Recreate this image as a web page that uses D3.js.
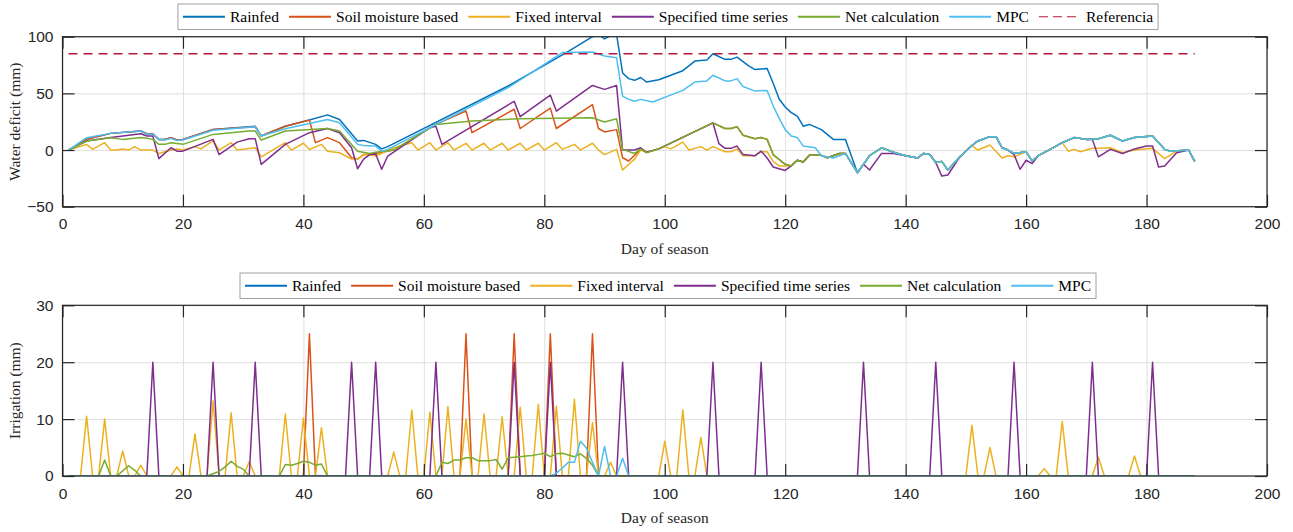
<!DOCTYPE html>
<html>
<head>
<meta charset="utf-8">
<script src="https://cdn.jsdelivr.net/npm/d3@7"></script>
<style>
  body { margin: 0; background: #fff; }
  .tick text { font-family: "Liberation Sans", Arial, Helvetica, sans-serif; font-size: 15.5px; fill: #262626; }
  .lbl { font-family: "Liberation Serif", "Times New Roman", serif; font-size: 15.5px; fill: #262626; }
</style>
</head>
<body>
<div id="chart"></div>
<script>
// ---- data ----
const seriesNames = ["Rainfed", "Soil moisture based", "Fixed interval", "Specified time series", "Net calculation", "MPC"];
const seriesColors = ["#0072BD", "#D95319", "#EDB120", "#7E2F8E", "#77AC30", "#4DBEEE"];
const referenceName = "Referencia";
const referenceColor = "#B5163A";
const referenceLevel = 85;
const referenceDays = [1, 188];
const seasonEnd = 188;

const xTicks = [0, 20, 40, 60, 80, 100, 120, 140, 160, 180, 200];
const deficitTicks = [-50, 0, 50, 100];
const irrigationTicks = [0, 10, 20, 30];

// water deficit (mm), [day, value] vertices
const lateSeason = [[132,-20],[134,-5],[136,2],[138,-2],[140,-5],[142,-7],[143,-3],[144,-4],[145,-11],[146,-10],[147,-17.6],
  [149,-6],[151,4],[152,8],[154,11.8],[155,11.8],[156,2],[157,0],[158,-3],[160,-1.5],[161,-9.7],[162,-5],[164,0.6],
  [166,6.5],[168,11],[170,9.4],[172,10],[174,13],[176,8],[178,11],[181,12.4],[183,0.6],[184,-1],[187,0],[188,-10]];

const netLate = [[99,1],[108,24],[110,19],[111,19],[112,20.6],[113,13],[115,10],[116,11],[117,9.4],[118,-4],[120,-12.6],
  [121,-14],[122,-9],[123,-10.6],[124,-4.7],[126,-4.7],[127,-6.8],[129,-3],[130,-3]];

const rainfedDeficit = [[1,0],[4,9.4],[8,14.7],[13,16.8],[14,14.4],[15,14.4],[16,9.4],[17,9.4],[18,10.9],[19,8.8],[20,9.4],
  [25,18.2],[32,21],[33,12.4],[37,21],[41,26.5],[44,31],[46,27],[49,8],[50,8.5],[52,5],[53,1],[54,3],[74,56.5],[84,87],
  [88,100],[89,102],[90,98],[91,101],[92,102],[93,68],[94,63],[95,61.5],[96,64],[97,60],[99,62],[103,70],[105,78.5],
  [107,79.4],[108,85],[110,80],[111,80],[112,82],[114,74],[115,71],[117,72],[118,59],[119,45],[120,38],[121,33],[122,30],
  [123,21],[124,22.6],[126,18],[128,9.4],[130,9.4]].concat(lateSeason);

const soilDeficit = [[1,0],[4,9.4],[8,14.7],[13,16.8],[14,14.4],[15,14.4],[16,9.4],[17,9.4],[18,10.9],[19,8.8],[20,9.4],
  [25,18.2],[32,20.5],[33,12.4],[37,21],[41,26.5],[42,6.5],[44,11],[46,6.5],[48,-6.8],[49,-8],[50,-4],[52,-3],[55,0],
  [62,22.6],[67,34.4],[68,15.3],[75,36],[76,19],[81,37],[82,19],[88,40],[89,19],[90,16],[92,18],[93,-6.8],[94,-9.7],
  [96,0.6],[97,-2]].concat(netLate, lateSeason);

const fixedDeficit = [[1,0],[4,5],[5,0.6],[7,6.5],[8,0],[9,0],[10,1],[11,0],[12,3],[13,0],[15,0],[16,-3],[17,-1.5],[18,0],
  [19,1],[20,0],[22,3],[23,1],[25,8],[26,0],[28,6.5],[29,0],[32,2],[33,-6],[37,6.5],[38,0],[40,6],[41,0.5],[43,5],[44,-1],
  [46,-2.4],[48,-8],[49,-8],[50,-4],[52,-5],[53,-3],[55,2],[58,6.5],[59,0],[61,6.5],[62,0],[64,6.5],[65,0],[67,5.9],[68,0],
  [70,6],[71,0],[73,6],[74,0],[76,6],[77,0],[79,6],[80,0],[82,6.5],[83,0.6],[85,5],[86,0],[88,6],[89,0],[90,-4],[92,0.6],
  [93,-17.6],[95,-8],[96,0],[97,-2],[99,1],[100,3],[101,1],[103,7],[104,0],[106,3],[107,0],[108,3],[110,-1.5],[111,-1.5],
  [112,1],[113,-5],[115,-5],[116,-1.5],[117,-1.5],[118,-10],[119,-14],[121,-14],[122,-9],[123,-10.6],[124,-4.7],[126,-4.7],
  [127,-6.8],[129,-3],[130,-3],[132,-20],[134,-5],[136,2],[138,-2],[140,-5],[142,-7],[143,-3],[144,-4],[145,-11],[146,-10],
  [147,-17.6],[149,-6],[151,4],[152,0],[154,4.4],[156,-7],[157,-5],[158,-6],[160,-1.5],[161,-9.7],[162,-5],[164,0.6],
  [166,6.5],[167,-1],[168,0.6],[169,-1.5],[171,1.5],[172,1.5],[174,2],[176,-2.4],[178,0],[181,1.5],[183,-7.6],[185,-1],
  [187,0],[188,-10]];

const specifiedDeficit = [[1,0],[4,8],[8,11],[13,14.4],[14,12.4],[15,12.4],[16,-7.6],[18,2],[19,-1],[20,-1],[25,9.4],[26,-4],
  [29,7],[31,10],[32,10],[33,-12.6],[37,5],[41,15.3],[44,19],[46,15.3],[48,2],[49,-16.5],[50,-8],[51,-4],[52,-3.5],[53,-17],
  [54,-5.3],[61,19.7],[62,21],[63,5],[75,43],[76,29.4],[81,48.5],[82,34.4],[88,57],[90,53.5],[92,57],[93,0],[95,0],[96,2],
  [97,-2],[99,1],[108,24],[109,5.6],[110,1.5],[111,1.5],[112,3.5],[113,-4],[115,-5],[116,-1],[117,-7],[118,-15],[119,-16.5],
  [120,-18],[121,-14],[122,-9],[123,-10.6],[124,-4.7],[126,-4.7],[127,-6.8],[129,-3],[130,-3],[132,-20],[133,-12.6],
  [134,-17.6],[136,-3],[138,-3],[140,-5],[142,-7],[143,-3],[144,-4],[145,-11],[146,-23],[147,-22],[149,-6],[151,4],[152,8],
  [154,11.8],[155,11.8],[156,2],[157,0],[158,-4],[159,-17],[160,-9],[161,-12],[162,-5],[164,0.6],[166,6.5],[168,11],
  [170,9.4],[171,9.4],[172,-6],[174,0.6],[176,-3],[178,1],[180,3.5],[181,3.5],[182,-15],[183,-14],[185,-2.4],[187,0],[188,-10]];

const netDeficit = [[1,0],[4,8],[8,10.9],[10,9.4],[13,11],[14,10.3],[15,9.4],[16,5],[17,5],[18,6.5],[20,5],[25,13.8],
  [31,16.8],[32,16.8],[33,8.8],[37,16.8],[44,19],[46,16.8],[49,-1],[51,-3],[52,-2],[55,0],[62,22.6],[68,25.6],[76,27.6],
  [88,28.5],[90,24.7],[92,27.6],[93,0.6],[95,-3],[96,1],[97,-2.4]].concat(netLate, lateSeason);

const mpcDeficit = [[1,0],[4,10.9],[8,14.7],[13,16.8],[14,14],[15,14],[16,9.4],[17,8.8],[18,10.3],[19,8.5],[20,8.8],
  [25,17.4],[32,20.6],[33,12.4],[37,18.8],[44,27],[46,24],[49,5],[50,4],[52,3.5],[53,-1],[54,0.6],[74,55],[83,86],
  [88,86.5],[90,83],[92,81.5],[93,47.6],[94,44.7],[95,43],[96,44.7],[98,42.4],[103,52.6],[105,60],[107,61],[108,66],
  [110,61],[111,61],[112,63],[113,56],[115,52],[117,52.6],[118,39],[119,28],[120,18],[121,12.4],[122,11],[123,3.5],
  [125,2],[126,-5],[128,-7],[130,-3]].concat(lateSeason);

// irrigation (mm) on the days it was applied, every other day is 0
const rainfedIrr = [];
const soilIrr = [[41,25],[67,25],[75,25],[81,25],[88,25]];
const fixedIrr = [[4,10.5],[7,10],[10,4.4],[13,1.9],[19,1.6],[22,7.4],[25,13.2],[28,11.1],[31,2.5],[37,10.9],[40,10.2],
  [43,8.5],[55,4.2],[58,11.6],[61,11.2],[64,12.2],[67,10],[70,10.9],[73,10.4],[76,12.1],[79,12.6],[82,12.3],[85,13.5],
  [88,9.4],[91,2.4],[100,6.1],[103,11.6],[106,6.8],[151,8.9],[154,5],[163,1.3],[166,9.6],[172,3.3],[178,3.5]];
const specifiedIrr = [[15,20],[25,20],[32,20],[48,20],[52,20],[62,20],[75,20],[81,20],[93,20],[108,20],[116,20],
  [133,20],[145,20],[158,20],[171,20],[181,20]];
const netIrr = [[7,2.8],[10,0.9],[11,1.8],[12,1],[25,0.4],[26,0.8],[27,1.6],[28,2.6],[29,1.7],[30,1.2],[37,2],[38,1.9],
  [39,2.2],[40,2.6],[41,2.4],[42,1.9],[43,2.1],[63,2.4],[64,2.2],[65,2.8],[66,2.8],[67,3.2],[68,3.2],[69,2.7],[70,2.7],
  [71,2.7],[72,2.9],[73,1.2],[74,3.2],[75,3.3],[76,3.4],[77,3.5],[78,3.6],[79,3.8],[80,4],[81,3.4],[82,3.9],[83,4],
  [84,3.7],[85,3.4],[86,3.9],[87,3.1],[88,1.9]];
const mpcIrr = [[82,0.5],[83,1.4],[84,2.4],[85,2.4],[86,6.1],[87,4.9],[88,2.4],[90,5.2],[93,3.1]];

const deficitSeries = [rainfedDeficit, soilDeficit, fixedDeficit, specifiedDeficit, netDeficit, mpcDeficit];
const irrigationEvents = [rainfedIrr, soilIrr, fixedIrr, specifiedIrr, netIrr, mpcIrr];

// one value per day of season
function dailySeries(events) {
  var byDay = new Map(events);
  return d3.range(1, seasonEnd + 1).map(function(d) { return [d, byDay.has(d) ? byDay.get(d) : 0]; });
}

// ---- drawing ----
var W = 1293, H = 532;
var svg = d3.select("#chart").append("svg")
  .attr("width", W).attr("height", H)
  .style("font-family", "'Liberation Serif', 'Times New Roman', serif");

var left = 62.5, right = 1267;
var x = d3.scaleLinear().domain([0, 200]).range([left, right]);

function drawPanel(id, top, bottom, yDomain, yTicks, yLabel, data, withRef) {
  var y = d3.scaleLinear().domain(yDomain).range([bottom, top]);
  var g = svg.append("g");

  // grid
  var grid = g.append("g").attr("class", "grid");
  grid.append("g").attr("transform", "translate(0," + bottom + ")")
    .call(d3.axisBottom(x).tickValues(xTicks).tickSize(-(bottom - top)).tickFormat(""));
  grid.append("g").attr("transform", "translate(" + left + ",0)")
    .call(d3.axisLeft(y).tickValues(yTicks).tickSize(-(right - left)).tickFormat(""));
  grid.selectAll(".domain").remove();
  grid.selectAll("line").attr("stroke", "#dfdfdf").attr("stroke-width", 1);

  // series
  g.append("clipPath").attr("id", id).append("rect")
    .attr("x", left).attr("y", top).attr("width", right - left).attr("height", bottom - top);
  var line = d3.line().x(function(d) { return x(d[0]); }).y(function(d) { return y(d[1]); });
  var lines = g.append("g").attr("clip-path", "url(#" + id + ")");
  data.forEach(function(s, i) {
    lines.append("path").datum(s)
      .attr("fill", "none").attr("stroke", seriesColors[i]).attr("stroke-width", 1.5)
      .attr("stroke-linejoin", "round").attr("d", line);
  });
  if (withRef) {
    lines.append("path").datum(referenceDays.map(function(d) { return [d, referenceLevel]; }))
      .attr("fill", "none").attr("stroke", referenceColor).attr("stroke-width", 1.4)
      .attr("stroke-dasharray", "9,6").attr("d", line);
  }

  // axes with inward ticks on all four sides
  var tick = 12;
  var axes = g.append("g").attr("class", "axes");
  axes.append("g").attr("transform", "translate(0," + bottom + ")")
    .call(d3.axisBottom(x).tickValues(xTicks).tickSizeInner(-tick).tickSizeOuter(0).tickPadding(11.5));
  axes.append("g").attr("transform", "translate(0," + top + ")")
    .call(d3.axisTop(x).tickValues(xTicks).tickSizeInner(-tick).tickSizeOuter(0).tickFormat(""));
  axes.append("g").attr("transform", "translate(" + left + ",0)")
    .call(d3.axisLeft(y).tickValues(yTicks).tickSizeInner(-tick).tickSizeOuter(0).tickPadding(9));
  axes.append("g").attr("transform", "translate(" + right + ",0)")
    .call(d3.axisRight(y).tickValues(yTicks).tickSizeInner(-tick).tickSizeOuter(0).tickFormat(""));
  axes.selectAll(".domain").remove();
  axes.selectAll(".tick line").attr("stroke", "#262626").attr("stroke-width", 1.2);
  g.append("rect").attr("x", left).attr("y", top).attr("width", right - left).attr("height", bottom - top)
    .attr("fill", "none").attr("stroke", "#262626").attr("stroke-width", 1.2);

  // labels
  g.append("text").attr("class", "lbl")
    .attr("x", (left + right) / 2).attr("y", bottom + 47)
    .attr("text-anchor", "middle").text("Day of season");
  g.append("text").attr("class", "lbl")
    .attr("transform", "translate(15," + ((top + bottom) / 2) + ") rotate(-90)")
    .attr("dy", "0.35em").attr("text-anchor", "middle").text(yLabel);
}

function drawLegend(top, h, withRef) {
  var items = seriesNames.map(function(n, i) { return { name: n, color: seriesColors[i], dash: null }; });
  if (withRef) items.push({ name: referenceName, color: referenceColor, dash: "9,5" });
  var g = svg.append("g");
  var box = g.append("rect").attr("fill", "#fff").attr("stroke", "#a0a0a0").attr("stroke-width", 1);
  var pos = 0;
  items.forEach(function(it) {
    g.append("line").attr("x1", pos + 5).attr("x2", pos + 47).attr("y1", h / 2).attr("y2", h / 2)
      .attr("stroke", it.color).attr("stroke-width", it.dash ? 1.2 : 2)
      .attr("stroke-dasharray", it.dash);
    var t = g.append("text").attr("class", "lbl").attr("x", pos + 52).attr("y", h / 2)
      .attr("dy", "0.33em").style("fill", "#000").text(it.name);
    pos += 52 + t.node().getComputedTextLength() + 5;
  });
  box.attr("width", pos).attr("height", h);
  g.attr("transform", "translate(" + (668 - pos / 2) + "," + top + ")");
}

drawPanel("clipTop", 36.7, 206.7, [-50, 100], deficitTicks, "Water deficit (mm)", deficitSeries, true);
drawPanel("clipBottom", 305.3, 476, [0, 30], irrigationTicks, "Irrigation (mm)", irrigationEvents.map(dailySeries), false);
drawLegend(4, 25.5, true);
drawLegend(273, 25.5, false);
</script>
</body>
</html>
